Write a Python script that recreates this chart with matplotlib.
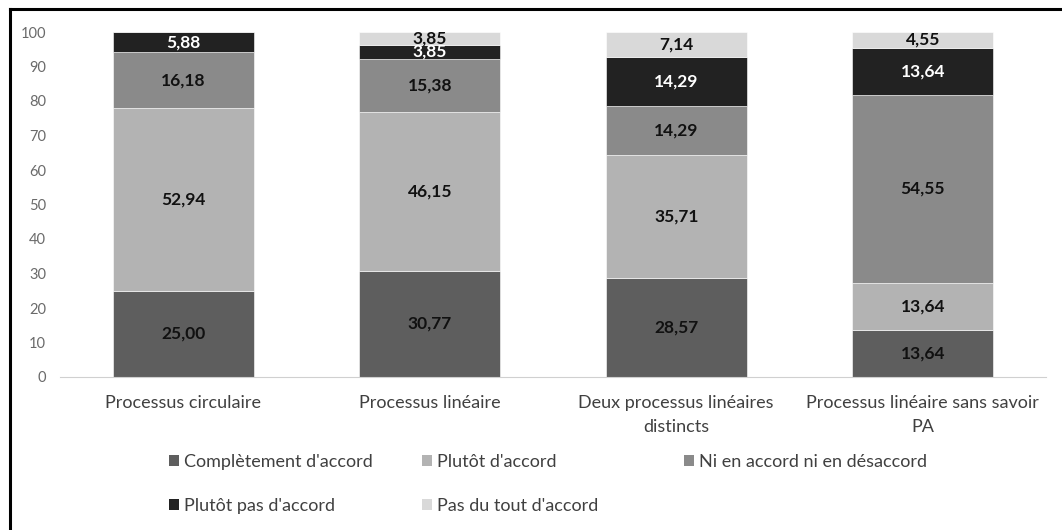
import numpy as np
import matplotlib
matplotlib.use('Agg')
import matplotlib.pyplot as plt
from matplotlib.lines import Line2D
from matplotlib.patches import Patch

plt.rcParams['font.family'] = ['Lato', 'DejaVu Sans']

categories = ["Processus circulaire", "Processus linéaire",
              "Deux processus linéaires\ndistincts",
              "Processus linéaire sans savoir\nPA"]
series_names = ["Complètement d'accord", "Plutôt d'accord",
                "Ni en accord ni en désaccord", "Plutôt pas d'accord",
                "Pas du tout d'accord"]
completement = [25.00, 30.77, 28.57, 13.64]
plutot = [52.94, 46.15, 35.71, 13.64]
ni_ni = [16.18, 15.38, 14.29, 54.55]
plutot_pas = [5.88, 3.85, 14.29, 13.64]
pas_du_tout = [0.0, 3.85, 7.14, 4.55]

series = [completement, plutot, ni_ni, plutot_pas, pas_du_tout]
colors = ['#5e5e5e', '#b3b3b3', '#8a8a8a', '#222222', '#d9d9d9']
text_colors = ['#111111', '#111111', '#111111', 'white', '#111111']

fig = plt.figure(figsize=(10.62, 5.30), dpi=100)
ax = fig.add_axes([60/1062, 1-377/530, (1046-60)/1062, (377-32)/530])

x = np.arange(len(categories))
bottom = np.zeros(len(categories))
handles = []
for vals, col, tc, name in zip(series, colors, text_colors, series_names):
    vals = np.array(vals)
    bars = ax.bar(x, vals, 0.57, bottom=bottom, color=col, label=name,
                  edgecolor='white', linewidth=0.4)
    labels = [('%.2f' % v).replace('.', ',') if v > 0 else '' for v in vals]
    ax.bar_label(bars, labels=labels, label_type='center', color=tc,
                 fontsize=12.5, fontweight='bold')
    handles.append(Patch(facecolor=col, label=name))
    bottom += vals

ax.set_xlim(-0.5, len(categories) - 0.5)
ax.set_ylim(0, 100)
ax.set_yticks(np.arange(0, 101, 10))
ax.set_xticks(x)
ax.set_xticklabels(categories, fontsize=13, color='#404040', linespacing=1.6)
ax.tick_params(axis='y', length=0, pad=10, labelsize=10.5, labelcolor='#6a6a6a')
ax.tick_params(axis='x', length=0, pad=13)
for s in ['top', 'right', 'left']:
    ax.spines[s].set_visible(False)
ax.spines['bottom'].set_color('#d0d0d0')

# legend in three columns, like the spreadsheet layout
cols = [[0, 3], [1, 4], [2]]
xpos = [160, 413, 675]
for idx, xp in zip(cols, xpos):
    leg = fig.legend(handles=[handles[i] for i in idx], loc='upper left',
                     bbox_to_anchor=(xp/1062, 1-445/530), frameon=False,
                     fontsize=13, handlelength=0.55, handleheight=0.55,
                     handletextpad=0.3, labelspacing=1.55, borderpad=0,
                     labelcolor='#404040')

# frame around the picture (cut at right and bottom)
fig.add_artist(Line2D([10/1062, 10/1062], [0, 1-9/530], color='black', lw=2.2))
fig.add_artist(Line2D([10/1062, 1], [1-9/530, 1-9/530], color='black', lw=2.2))

fig.savefig('out.png', dpi=100)
plt.close()
